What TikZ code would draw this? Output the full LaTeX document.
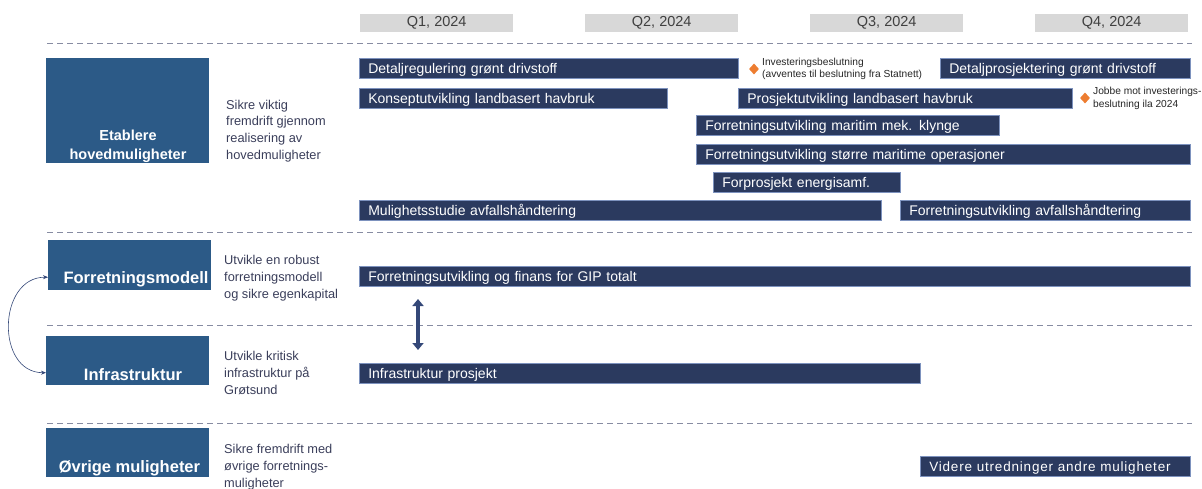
\documentclass[tikz,border=0pt]{standalone}
\usepackage{fontspec}
\setmainfont{Liberation Sans}
\newfontfamily\spacedfont[LetterSpace=6]{Liberation Sans}
\usepackage{tikz}
\usetikzlibrary{calc,arrows.meta,shapes.geometric}
\definecolor{catblue}{RGB}{44,90,135}
\definecolor{barnavy}{RGB}{43,58,95}
\definecolor{barline}{RGB}{125,146,190}
\definecolor{desctext}{RGB}{58,62,90}
\definecolor{quartergray}{RGB}{216,216,216}
\definecolor{dashgray}{RGB}{135,140,162}
\definecolor{milestone}{RGB}{237,125,49}
\definecolor{arrownavy}{RGB}{52,72,120}
\tikzset{
	bar/.style={draw=barline, line width=0.6pt, fill=barnavy, text=white, anchor=north west, minimum height=20pt, inner xsep=9pt, inner ysep=0pt, text height=11.5pt, text depth=1.5pt, align=left, font=\fontsize{14}{15}\selectfont},
	catbox/.style={fill=catblue, anchor=north west, minimum width=163pt, inner sep=0pt},
	cattext/.style={text=white, align=center, font=\fontsize{16.5}{19}\selectfont\bfseries},
	desc/.style={text=desctext, anchor=west, align=left, inner sep=0pt, font=\fontsize{12.8}{16.8}\selectfont},
	quarter/.style={fill=quartergray, text=black!75, anchor=north west, minimum width=153pt, minimum height=18pt, inner sep=0pt, font=\fontsize{14.5}{15}\selectfont},
	msdot/.style={diamond, fill=milestone, minimum width=10pt, minimum height=11pt, inner sep=0pt},
	note/.style={anchor=west, align=left, inner sep=0pt, text=black!85, font=\fontsize{10.2}{12.5}\selectfont},
	rowline/.style={dashgray, line width=1pt, dash pattern=on 6pt off 4pt}
}
\newcommand{\ganttbar}[5]{%
	\pgfmathsetmacro{\barwidth}{#3-#2-18}%
	\node[bar, text width=\barwidth pt] (#1) at (#2,#4) {#5};}

\begin{document}
\begin{tikzpicture}[x=1pt, y=-1pt]
			%%%%% START %%%%%
			\useasboundingbox (0,0) rectangle (1202,489);
			
			\foreach \q/\x in {1/360,2/585,3/810,4/1035}
				\node[quarter] (q\q) at (\x,14) {Q\q, 2024};
			
			\draw[rowline] (47,44) -- (1192,44);
			\draw[rowline] (47,233) -- (1192,233);
			\draw[rowline] (47,325) -- (1192,325);
			\draw[rowline] (47,423) -- (1192,423);
			
			%%%%% CATEGORIES %%%%%
			\node[catbox, minimum height=105pt] (etab) at (46,58) {};
			\node[cattext, font=\fontsize{14.5}{19}\selectfont\bfseries] (etabtxt) at (128,146.5) {Etablere\\hovedmuligheter};
			\node[desc] (etabdesc) at (226,131) {Sikre viktig\\fremdrift gjennom\\realisering av\\hovedmuligheter};
			
			\node[catbox, minimum height=50pt] (forr) at (48,240) {};
			\node[cattext] (forrtxt) at (136,279) {Forretningsmodell};
			\node[desc] (forrdesc) at (224,278) {Utvikle en robust\\forretningsmodell\\og sikre egenkapital};
			
			\node[catbox, minimum height=49pt] (infra) at (46,336) {};
			\node[cattext] (infratxt) at (133,375) {Infrastruktur};
			\node[desc] (infradesc) at (224,373) {Utvikle kritisk\\infrastruktur på\\Grøtsund};
			
			\node[catbox, minimum height=49pt] (ovr) at (46,428) {};
			\node[cattext] (ovrtxt) at (129.5,468) {Øvrige muligheter};
			\node[desc] (ovrdesc) at (224,467) {Sikre fremdrift med\\øvrige forretnings-\\muligheter};
			
			\draw[arrownavy, line width=0.6pt, {Stealth[length=5pt,width=4pt]}-{Stealth[length=5pt,width=4pt]}] ([yshift=-12pt]forr.west) to[out=180, in=180, looseness=1.35] ([yshift=-12pt]infra.west);
			
			%%%%% BARS %%%%%
			\ganttbar{detreg}{359}{738}{58}{Detaljregulering grønt drivstoff}
			\node[msdot] (ms1) at (754,69) {};
			\node[note] (ms1txt) at (762,69) {Investeringsbeslutning\\(avventes til beslutning fra Statnett)};
			\ganttbar{detprosj}{940}{1190}{58}{Detaljprosjektering grønt drivstoff}
			
			\ganttbar{konsept}{359}{667}{88}{Konseptutvikling landbasert havbruk}
			\ganttbar{prosjekt}{738}{1072}{88}{Prosjektutvikling landbasert havbruk}
			\node[msdot] (ms2) at (1085,98) {};
			\node[note] (ms2txt) at (1093,98.5) {Jobbe mot investerings-\\beslutning ila 2024};
			
			\ganttbar{klynge}{696}{999}{115}{Forretningsutvikling maritim mek. klynge}
			\ganttbar{maritim}{696}{1190}{144}{Forretningsutvikling større maritime operasjoner}
			\ganttbar{energi}{713}{900}{172}{Forprosjekt energisamf.}
			\ganttbar{mulavf}{359}{881}{200}{Mulighetsstudie avfallshåndtering}
			\ganttbar{forravf}{900}{1190}{200}{Forretningsutvikling avfallshåndtering}
			
			\ganttbar{gip}{359}{1190}{266}{Forretningsutvikling og finans for GIP totalt}
			\ganttbar{infraprosj}{359}{920}{363}{Infrastruktur prosjekt}
			\ganttbar{videre}{920}{1190}{456}{\spacedfont\fontsize{13.5}{15}\selectfont Videre utredninger andre muligheter}
			
			\coordinate (linktop) at (418,299);
			\coordinate (linkbot) at (418,350);
			\draw[arrownavy, line width=3.5pt, {Triangle[width=11pt,length=7pt]}-{Triangle[width=11pt,length=7pt]}] (linktop) -- (linkbot);
			
			%%%%% END %%%%%
\end{tikzpicture}
\end{document}
